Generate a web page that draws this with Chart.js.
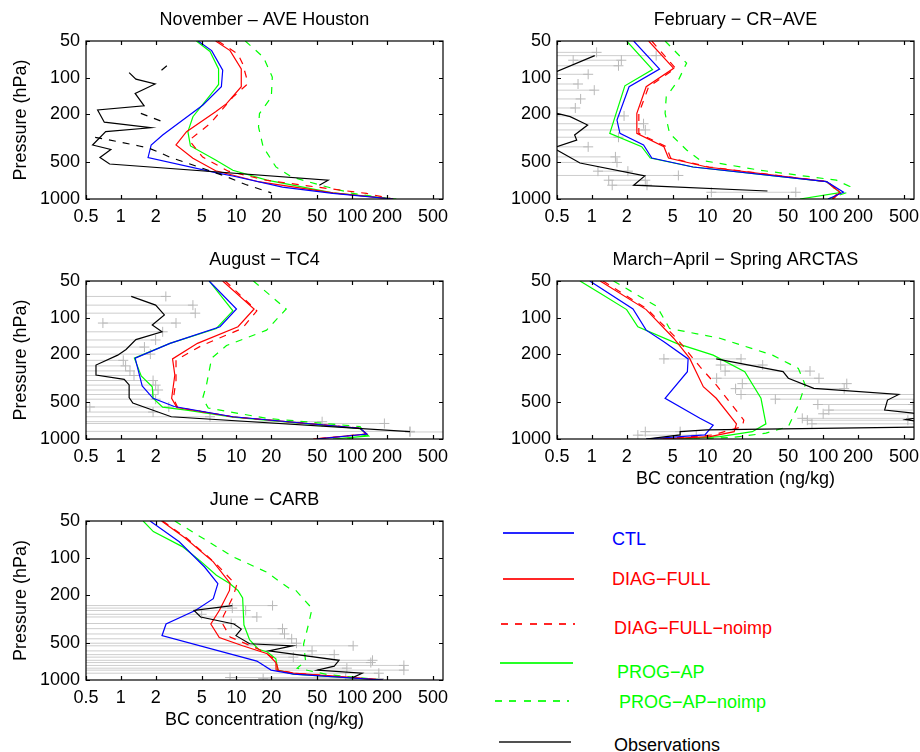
<!DOCTYPE html>
<html>
<head>
<meta charset="utf-8">
<script src="https://cdn.jsdelivr.net/npm/chart.js@4.4.1/dist/chart.umd.min.js"></script>
<style>
  body { margin:0; background:#fff; }
  #page { position:relative; width:920px; height:752px; overflow:hidden; font-family:'Liberation Sans', Arial, sans-serif; }
  canvas { position:absolute; }
  .key { position:absolute; font-size:18px; line-height:22px; height:22px; white-space:nowrap; }
  .keyline { position:absolute; height:2px; opacity:0.85; }
</style>
</head>
<body>
<div id="page">
  <canvas id="nov"></canvas>
  <canvas id="feb"></canvas>
  <canvas id="aug"></canvas>
  <canvas id="arc"></canvas>
  <canvas id="carb"></canvas>
</div>
<script>
// axis ticks
const xTicks = [0.5, 1, 2, 5, 10, 20, 50, 100, 200, 500];
const yTicks = [50, 100, 200, 500, 1000];

const seriesNames = ['CTL', 'DIAG\u2212FULL', 'DIAG\u2212FULL\u2212noimp', 'PROG\u2212AP', 'PROG\u2212AP\u2212noimp', 'Observations'];

// each profile: [BC concentration (ng/kg), pressure (hPa)]
// November - AVE Houston
const novCtl = [[4.65,50],[6.1,60],[7.6,87],[7.4,119],[5.1,169],[2.3,297],[1.83,359],[1.72,455],[6.6,606],[9.5,650],[25,798],[68,900],[226,1000]];
const novFull = [[6.6,50],[8.8,60],[11,85],[11,119],[8.2,164],[6.6,191],[3.7,279],[3.0,359],[4.2,462],[6.6,585],[15.8,724],[68,890],[226,1000]];
const novFullNo = [[6.9,50],[10.3,64],[11.3,77],[12.2,100],[12.2,115],[9.3,145],[5.9,240],[3.9,328],[5.1,452],[8.5,590],[18,700],[46,790],[133,900],[226,1000]];
const novProg = [[4.5,50],[5.9,61],[7.0,85],[7.0,114],[6.6,123],[4.2,210],[3.8,279],[4.0,366],[6.6,478],[9.3,580],[18.3,700],[68,890],[241,1000]];
const novProgNo = [[11.9,50],[17.1,68],[20.4,99],[20,145],[15.8,198],[15.5,255],[17,372],[21.9,544],[30,659],[52,765],[101,900],[226,1000]];
const novObs = [[1.18,91],[1.35,103],[1.98,113],[1.33,135],[1.59,171],[0.63,185],[0.72,233],[1.82,259],[0.74,279],[0.57,359],[0.82,391],[0.66,455],[0.80,515],[62,700],[52,770]];
const novObsMed = [[2.5,80],[2.1,92],null,[1.49,197],[2.5,238],null,[0.6,311],[0.72,320],[0.94,337],[1.44,366],[1.76,383],[2.09,408],[2.6,449],[7.7,640],[12,760],[20,890]];

// February - CR-AVE
const febCtl = [[2.3,50],[3.85,85],[2.1,119],[1.65,224],[1.75,288],[2.8,359],[3.3,460],[7.5,545],[107,720],[150,880],[110,1000]];
const febFull = [[3.1,50],[5.1,84],[2.95,119],[2.45,197],[2.45,288],[4.2,371],[4.6,460],[9.9,545],[107,720],[140,880],[122,1000]];
const febFullNo = [[3.3,50],[5.3,84],[3.1,119],[2.55,197],[2.55,288],[4.4,371],[4.8,460],[10.3,545],[110,720],[135,880],[120,1000]];
const febProg = [[2.0,50],[3.35,86],[1.93,117],[1.43,288],[2.7,371],[3.2,460],[7.5,545],[107,720],[140,885],[63,1000]];
const febProgNo = [[4.3,50],[6.6,76],[5.6,105],[4.4,144],[4.3,197],[4.7,288],[6.6,395],[8.6,478],[28,578],[130,700],[170,790],[160,885],[110,1000]];
const febObs = [[1.06,66],[0.5,89],[0.3,100],[0.3,185],[0.5,197],[0.65,210],[0.92,246],[0.71,297],[0.74,327],[0.5,371],[0.35,382],[0.5,395],[0.79,505],[2.87,646],[2.3,770],[33,859]];
// [pressure, low, high]
const febBars = [[62,0.3,1.1],[66,0.3,3.6],[72,0.69,1.8],[80,0.3,1.7],[94,0.3,0.93],[113,0.3,0.76],[127,0.3,1.05],[150,0.3,0.8],[178,0.3,0.72],[207,0.3,1.9],[240,0.3,2.8],[270,0.3,2.9],[310,0.3,1.7],[372,0.3,0.93],[450,0.3,1.6],[500,0.3,1.65],[590,1.13,2.05],[640,0.3,5.6],[700,1.4,2.9],[770,1.5,3.0],[880,10.8,58]];

// August - TC4
const augCtl = [[5.8,50],[10,85],[7.2,119],[2.66,163],[1.33,216],[1.53,366],[1.9,462],[2.9,540],[9.3,656],[117,815],[134,910],[49,1000]];
const augFull = [[7.6,50],[14.2,85],[10.3,119],[4.6,163],[2.8,219],[2.93,297],[2.75,462],[3.05,550],[9.3,656],[117,815],[134,910],[46,1000]];
const augFullNo = [[8.0,50],[15,88],[11.2,123],[5.0,170],[3.0,224],[3.0,330],[2.85,462],[3.1,550],[9.5,660],[120,815],[130,910],[48,1000]];
const augProg = [[5.8,50],[9.3,88],[6.7,123],[2.66,163],[1.31,216],[1.5,303],[1.87,371],[1.9,462],[2.3,546],[3.7,578],[9.3,660],[117,820],[139,944],[68,1000]];
const augProgNo = [[14,50],[26.9,85],[18.2,127],[8.2,170],[6.1,216],[5.5,359],[5.1,462],[5.7,556],[18.2,676],[117,790],[134,930],[90,1000]];
const augObs = [[1.23,67],[2.0,79],[2.38,95],[1.87,115],[2.27,131],[1.35,152],[1.11,183],[0.94,204],[0.61,246],[0.61,297],[1.07,323],[1.18,359],[1.18,455],[1.27,505],[2.73,656],[316,870]];
const augBars = [[67,0.3,2.45],[79,0.3,4.2],[92,0.3,4.4],[111,0.7,3.0],[131,0.3,2.3],[153,0.3,2.0],[175,0.3,1.6],[200,0.3,1.8],[225,0.3,1.05],[250,0.3,1.1],[275,0.3,1.2],[300,0.3,1.3],[330,0.3,1.9],[360,0.3,2.0],[395,0.3,2.1],[430,0.3,1.9],[470,0.3,2.0],[545,0.54,2.6],[600,0.3,1.9],[656,0.3,5.9],[720,0.3,55],[745,0.3,190],[865,0.3,316],[875,316,800]];

// March-April - Spring ARCTAS
const arcCtl = [[0.96,50],[2.27,85],[2.95,127],[4.2,158],[6.8,219],[6.7,279],[4.3,462],[8.6,676],[11.2,770],[9.5,925],[2.95,1000]];
const arcFull = [[1.18,50],[2.95,86],[5.1,148],[7.0,216],[9.2,371],[11.9,462],[17.8,750],[17,870],[10.5,955],[3.9,1000]];
const arcFullNo = [[1.25,50],[3.0,85],[5.4,148],[8.6,254],[11.9,359],[20.6,700],[20,790],[11.2,925],[3.9,1000]];
const arcProg = [[0.79,50],[1.18,63],[2.0,86],[2.5,119],[5.4,163],[11.2,204],[21,279],[29,462],[32,750],[24.4,870],[12.8,955],[5.6,1000]];
const arcProgNo = [[1.54,50],[3.65,81],[4.7,123],[12.8,148],[36.5,204],[61,262],[70,359],[61,525],[50,790],[32,895],[16.7,970],[7.6,1000]];
const arcObs = [[11.9,219],[45,279],[50,316],[83,383],[450,430],[360,478],[340,578],[600,612],[800,650],[520,690],[800,740],[800,795],[9.9,842],[5.8,870],[5.8,925],[2.95,1000]];
const arcBars = [[219,4.2,19.5],[246,13,30],[276,14.2,77],[316,12,92],[350,20,160],[385,17.5,152],[430,19.5,700],[470,38.6,700],[520,90,600],[578,112,700],[620,100,700],[676,66,700],[700,73,540],[750,80,700],[870,2.9,5.8],[930,2.5,8]];

// June - CARB
const carbCtl = [[1.79,50],[3.2,74],[5.3,119],[6.9,163],[6.3,216],[4.4,270],[2.46,348],[2.27,434],[15,700],[19.9,830],[31.2,895],[185,1000]];
const carbFull = [[2.25,50],[3.6,69],[6.3,108],[8.8,161],[8.7,185],[7.1,270],[6.0,348],[7.1,450],[11.3,525],[18.5,610],[21.9,720],[22,830],[31,880],[185,1000]];
const carbFullNo = [[2.3,50],[3.7,69],[6.6,111],[10,168],[9.4,205],[7.7,300],[7.5,340],[8.8,445],[15.6,560],[21.7,676],[23,830],[32,880],[185,1000]];
const carbProg = [[1.56,50],[1.91,61],[3.4,81],[4.8,105],[6.7,139],[8.8,163],[10.3,185],[11.3,213],[11.6,355],[13,470],[15.5,560],[18.5,590],[21.9,670],[22.7,830],[31,895],[185,1000]];
const carbProgNo = [[2.93,50],[9.3,98],[18.2,131],[28.8,179],[32.6,185],[45,260],[42,348],[38,510],[39.6,700],[33.5,800],[60,900],[185,1000]];
const carbObs = [[9.2,246],[4.3,270],[4.9,305],[9.5,348],[11,383],[9.9,434],[13,505],[30.5,525],[19,578],[77,690],[70,770],[50,830],[122,880],[100,960]];
const carbBars = [[246,0.3,20.5],[258,0.3,9.2],[270,0.3,12],[290,0.3,5],[305,0.3,15],[345,0.3,9],[380,0.3,25],[420,0.3,26],[460,0.3,30],[500,0.3,33],[525,0.3,102],[578,0.3,45],[620,0.3,70],[650,0.3,31],[690,0.3,150],[720,0.3,145],[760,0.3,280],[800,0.3,90],[830,0.3,280],[880,0.3,170],[955,8.8,88],[975,17,170]];

const BLUE = '#0000ff', RED = '#ff0000', GREEN = '#00ff00', BLACK = '#000000';
const DASH = [7, 7];

Chart.defaults.font.family = "'Liberation Sans', Arial, sans-serif";
Chart.defaults.font.size = 18;
Chart.defaults.color = '#000';

function pts(arr) {
  return arr.map(p => p ? {x: p[0], y: p[1]} : {x: NaN, y: NaN});
}

function line(arr, color, dash) {
  return {data: pts(arr), showLine: true, borderColor: color, borderWidth: 1.2,
          borderDash: dash || [], pointRadius: 0, spanGaps: false};
}

// box + inward tick marks like the original
const frame = {
  id: 'frame',
  afterDatasetsDraw(chart) {
    const {ctx, chartArea: a, scales: {x, y}} = chart;
    ctx.save();
    ctx.strokeStyle = '#000';
    ctx.lineWidth = 1.2;
    ctx.strokeRect(a.left, a.top, a.width, a.height);
    ctx.beginPath();
    x.ticks.forEach(t => {
      const px = Math.round(x.getPixelForValue(t.value)) + 0.5;
      ctx.moveTo(px, a.bottom); ctx.lineTo(px, a.bottom - 4);
      ctx.moveTo(px, a.top); ctx.lineTo(px, a.top + 4);
    });
    y.ticks.forEach(t => {
      const py = Math.round(y.getPixelForValue(t.value)) + 0.5;
      ctx.moveTo(a.left, py); ctx.lineTo(a.left + 4, py);
      ctx.moveTo(a.right, py); ctx.lineTo(a.right - 4, py);
    });
    ctx.stroke();
    ctx.restore();
  }
};

function makePanel(id, title, models, obs, obsMed, bars, o) {
  const cv = document.getElementById(id);
  cv.width = o.w; cv.height = o.h;
  cv.style.left = o.left + 'px'; cv.style.top = o.top + 'px';
  cv.style.width = o.w + 'px'; cv.style.height = o.h + 'px';

  const datasets = [];
  datasets.push(line(obs, BLACK));
  if (obsMed) datasets.push(line(obsMed, BLACK, DASH));
  datasets.push(line(models[0], BLUE));
  datasets.push(line(models[1], RED));
  datasets.push(line(models[2], RED, DASH));
  datasets.push(line(models[3], GREEN));
  datasets.push(line(models[4], GREEN, DASH));
  if (bars) {
    datasets.push({
      data: bars.flatMap(([p, lo, hi]) => [{x: lo, y: p}, {x: hi, y: p}]),
      showLine: false, pointStyle: 'cross', pointRadius: 5,
      borderColor: '#b9b9b9', borderWidth: 1
    });
    datasets.push({
      data: bars.flatMap(([p, lo, hi]) => [{x: lo, y: p}, {x: hi, y: p}, {x: NaN, y: NaN}]),
      showLine: true, spanGaps: false, pointRadius: 0,
      borderColor: '#cdcdcd', borderWidth: 1
    });
  }

  return new Chart(cv, {
    type: 'scatter',
    data: {datasets},
    options: {
      responsive: false,
      animation: false,
      events: [],
      layout: {padding: {left: 0, right: o.pr, top: 0, bottom: 0}},
      plugins: {
        legend: {display: false},
        tooltip: {enabled: false},
        title: {display: true, text: title, fullSize: false, color: '#000',
                padding: {top: 9, bottom: 10.4}, font: {size: 18, weight: 'normal'}}
      },
      scales: {
        x: {
          type: 'logarithmic', min: 0.5, max: 610, position: 'bottom',
          grid: {display: false, drawTicks: false}, border: {display: false},
          afterBuildTicks: s => { s.ticks = xTicks.map(v => ({value: v})); },
          afterFit: s => { s.height = o.xh; s.paddingLeft = 0; s.paddingRight = 0; },
          ticks: {autoSkip: false, maxRotation: 0, minRotation: 0, padding: 7,
                  color: '#000', callback: v => String(v)},
          title: {display: o.xTitle, text: 'BC concentration (ng/kg)', color: '#000',
                  padding: {top: 0, bottom: 1}}
        },
        y: {
          type: 'logarithmic', reverse: true, min: 50, max: 1000,
          grid: {display: false, drawTicks: false}, border: {display: false},
          afterBuildTicks: s => { s.ticks = yTicks.map(v => ({value: v})); },
          afterFit: s => { s.width = o.yw; s.paddingTop = 0; s.paddingBottom = 0; },
          ticks: {autoSkip: false, padding: 6, color: '#000', callback: v => String(v)},
          title: {display: o.yTitle, text: 'Pressure (hPa)', color: '#000',
                  padding: {top: 10, bottom: 0}}
        }
      }
    },
    plugins: [frame]
  });
}

makePanel('nov', 'November \u2013 AVE Houston',
  [novCtl, novFull, novFullNo, novProg, novProgNo], novObs, novObsMed, null,
  {left: 0, top: 0, w: 460, h: 235, xh: 36, yw: 86, pr: 17, xTitle: false, yTitle: true});

makePanel('feb', 'February \u2212 CR\u2212AVE',
  [febCtl, febFull, febFullNo, febProg, febProgNo], febObs, null, febBars,
  {left: 460, top: 0, w: 460, h: 235, xh: 36, yw: 97, pr: 6, xTitle: false, yTitle: false});

makePanel('aug', 'August \u2212 TC4',
  [augCtl, augFull, augFullNo, augProg, augProgNo], augObs, null, augBars,
  {left: 0, top: 240, w: 460, h: 235, xh: 36, yw: 86, pr: 17, xTitle: false, yTitle: true});

makePanel('arc', 'March\u2212April \u2212 Spring ARCTAS',
  [arcCtl, arcFull, arcFullNo, arcProg, arcProgNo], arcObs, null, arcBars,
  {left: 460, top: 240, w: 460, h: 251, xh: 52, yw: 97, pr: 6, xTitle: true, yTitle: false});

makePanel('carb', 'June \u2212 CARB',
  [carbCtl, carbFull, carbFullNo, carbProg, carbProgNo], carbObs, null, carbBars,
  {left: 0, top: 480, w: 460, h: 252, xh: 52, yw: 86, pr: 17, xTitle: true, yTitle: true});

// legend at the lower right
const keyColors = [BLUE, RED, RED, GREEN, GREEN, '#333333'];
const keyText = [BLUE, RED, RED, GREEN, GREEN, BLACK];
const keyDash = [false, false, true, false, true, false];
const keyLine = [[503, 574, 533], [503, 574, 579], [501, 575, 624], [500, 573, 663], [495, 569, 701], [499, 571, 742]];
const keyLabel = [[612, 539], [612, 579], [614, 628], [617, 672], [619, 702], [614, 745]];

const page = document.getElementById('page');
seriesNames.forEach((name, i) => {
  const [x1, x2, ly] = keyLine[i];
  const ln = document.createElement('div');
  ln.className = 'keyline';
  ln.style.left = x1 + 'px';
  ln.style.top = (ly - 1) + 'px';
  ln.style.width = (x2 - x1) + 'px';
  ln.style.background = keyDash[i]
    ? 'repeating-linear-gradient(to right, ' + keyColors[i] + ' 0 7px, transparent 7px 14.5px)'
    : keyColors[i];
  page.appendChild(ln);

  const d = document.createElement('div');
  d.className = 'key';
  d.textContent = name;
  d.style.left = keyLabel[i][0] + 'px';
  d.style.top = (keyLabel[i][1] - 11) + 'px';
  d.style.color = keyText[i];
  page.appendChild(d);
});
</script>
</body>
</html>
